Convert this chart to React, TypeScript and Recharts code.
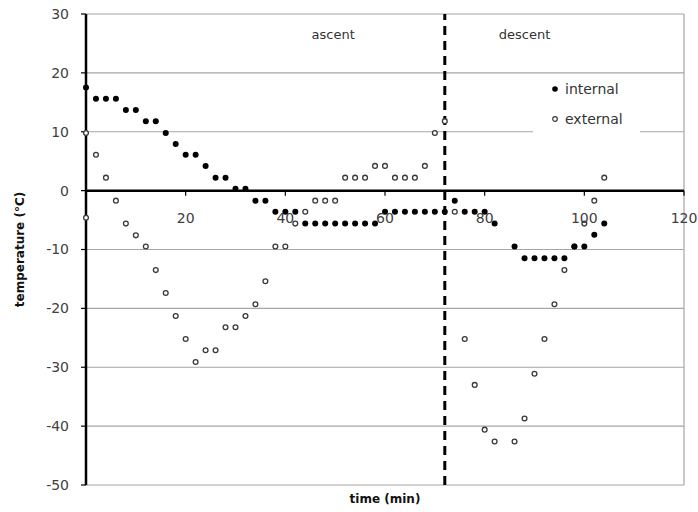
import {
  CartesianGrid,
  Legend,
  ReferenceDot,
  ReferenceLine,
  Scatter,
  ScatterChart,
  XAxis,
  YAxis,
} from "recharts";

const internalTime = [
  0, 2, 4, 6, 8, 10, 12, 14, 16, 18, 20, 22, 24, 26, 28, 30, 32, 34, 36, 38, 40,
  42, 44, 46, 48, 50, 52, 54, 56, 58, 60, 62, 64, 66, 68, 70, 72, 74, 76, 78, 80,
  82, 86, 88, 90, 92, 94, 96, 98, 100, 102, 104,
];
const internalTemp = [
  17.5, 15.6, 15.6, 15.6, 13.7, 13.7, 11.8, 11.8, 9.8, 7.9, 6.1, 6.1, 4.2, 2.2,
  2.2, 0.3, 0.3, -1.7, -1.7, -3.6, -3.6, -3.6, -5.6, -5.6, -5.6, -5.6, -5.6,
  -5.6, -5.6, -5.6, -3.6, -3.6, -3.6, -3.6, -3.6, -3.6, -3.6, -1.7, -3.6, -3.6,
  -3.6, -5.6, -9.5, -11.5, -11.5, -11.5, -11.5, -11.5, -9.5, -9.5, -7.5, -5.6,
];

const externalTime = [
  0, 0, 2, 4, 6, 8, 10, 12, 14, 16, 18, 20, 22, 24, 26, 28, 30, 32, 34, 36, 38,
  40, 42, 44, 46, 48, 50, 52, 54, 56, 58, 60, 62, 64, 66, 68, 70, 72, 74, 76, 78,
  80, 82, 86, 88, 90, 92, 94, 96, 98, 100, 102, 104,
];
const externalTemp = [
  9.8, -4.6, 6.1, 2.2, -1.7, -5.6, -7.6, -9.5, -13.5, -17.4, -21.3, -25.2, -29.1,
  -27.1, -27.1, -23.2, -23.2, -21.3, -19.3, -15.4, -9.5, -9.5, -5.6, -3.6, -1.7,
  -1.7, -1.7, 2.2, 2.2, 2.2, 4.2, 4.2, 2.2, 2.2, 2.2, 4.2, 9.8, 11.8, -3.6,
  -25.2, -33.0, -40.6, -42.6, -42.6, -38.7, -31.1, -25.2, -19.3, -13.5, -9.5,
  -5.6, -1.7, 2.2,
];

const apogeeTime = 72;
const xTicks = [0, 20, 40, 60, 80, 100, 120];
const yTicks = [-50, -40, -30, -20, -10, 0, 10, 20, 30];

const internalData = internalTime.map((t, i) => ({ t, temp: internalTemp[i] }));
const externalData = externalTime.map((t, i) => ({ t, temp: externalTemp[i] }));

const FONT = "'DejaVu Sans', sans-serif";
const GRID = "#a6a6a6";

const FilledDot = (p: any) => <circle cx={p.cx} cy={p.cy} r={3} fill="#000" />;
const OpenDot = (p: any) => (
  <circle cx={p.cx} cy={p.cy} r={2.4} fill="#fff" stroke="#3a3a3a" strokeWidth={1.3} />
);
const TickMark = (p: any) => (
  <line x1={p.cx} x2={p.cx} y1={p.cy} y2={p.cy + 5} stroke="#000" strokeWidth={1.2} />
);

function LegendBox() {
  const row = { display: "flex", alignItems: "center", height: 31 } as const;
  return (
    <div
      style={{
        background: "#fff",
        width: 107,
        height: 62,
        fontFamily: FONT,
        fontSize: 14,
        color: "#333",
        paddingLeft: 18,
        boxSizing: "border-box",
      }}
    >
      <div style={{ ...row, height: 28 }}>
        <svg width={10} height={10} style={{ marginRight: 4 }}>
          <circle cx={4} cy={5} r={2.8} fill="#000" />
        </svg>
        internal
      </div>
      <div style={row}>
        <svg width={10} height={10} style={{ marginRight: 4 }}>
          <circle cx={4} cy={5} r={2.3} fill="#fff" stroke="#3a3a3a" strokeWidth={1.2} />
        </svg>
        external
      </div>
    </div>
  );
}

export default function App() {
  return (
    <div style={{ position: "absolute", left: 0, top: 0 }}>
      <ScatterChart
        width={698}
        height={512}
        margin={{ top: 14, right: 14, bottom: 0, left: 0 }}
      >
        <CartesianGrid stroke={GRID} strokeWidth={1.2} />
        <XAxis
          type="number"
          dataKey="t"
          domain={[0, 120]}
          ticks={xTicks}
          axisLine={false}
          tickLine={false}
          tick={false}
          height={27}
          label={{
            value: "time (min)",
            position: "insideBottom",
            offset: 9,
            style: { fontFamily: FONT, fontSize: 12, fontWeight: 700, fill: "#111" },
          }}
        />
        <YAxis
          type="number"
          dataKey="temp"
          domain={[-50, 30]}
          ticks={yTicks}
          interval={0}
          width={86}
          axisLine={{ stroke: "#000", strokeWidth: 2.5 }}
          tickLine={{ stroke: "#000", strokeWidth: 1.2 }}
          tickSize={5}
          tickMargin={12}
          tick={{ fontFamily: FONT, fontSize: 14, fill: "#404040" }}
          label={{
            value: "temperature (°C)",
            angle: -90,
            position: "insideLeft",
            offset: 20,
            style: {
              textAnchor: "middle",
              fontFamily: FONT,
              fontSize: 12,
              fontWeight: 700,
              fill: "#111",
            },
          }}
        />
        <ReferenceLine y={0} stroke="#000" strokeWidth={2.5} />
        <ReferenceLine
          x={apogeeTime}
          stroke="#000"
          strokeWidth={3}
          strokeDasharray="9 6"
        />
        {xTicks.slice(1).map((t) => (
          <ReferenceDot
            key={t}
            x={t}
            y={0}
            r={0}
            shape={TickMark}
            label={{
              value: t,
              position: "bottom",
              offset: 22,
              style: { fontFamily: FONT, fontSize: 14, fill: "#404040" },
            }}
          />
        ))}
        <ReferenceDot
          x={49.6}
          y={26.6}
          r={0}
          label={{
            value: "ascent",
            position: "center",
            style: { fontFamily: FONT, fontSize: 13, fill: "#333" },
          }}
        />
        <ReferenceDot
          x={88}
          y={26.6}
          r={0}
          label={{
            value: "descent",
            position: "center",
            style: { fontFamily: FONT, fontSize: 13, fill: "#333" },
          }}
        />
        <Scatter
          name="external"
          data={externalData}
          shape={OpenDot}
          isAnimationActive={false}
        />
        <Scatter
          name="internal"
          data={internalData}
          shape={FilledDot}
          isAnimationActive={false}
        />
        <Legend
          layout="vertical"
          align="center"
          verticalAlign="middle"
          wrapperStyle={{ left: 533, top: 75, width: 107, height: 62 }}
          content={() => <LegendBox />}
        />
      </ScatterChart>
    </div>
  );
}
